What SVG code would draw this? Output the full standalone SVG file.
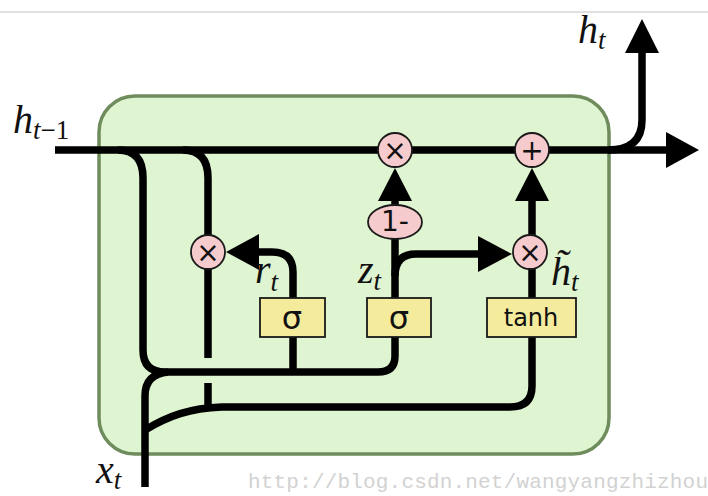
<svg xmlns="http://www.w3.org/2000/svg" width="708" height="496" viewBox="0 0 708 496">
<style>
.ln{fill:none;stroke:#000;stroke-width:7.5}
.ah{fill:#000}
.op{fill:#f6cbcd;stroke:#1a1a1a;stroke-width:1.8}
.bx{fill:#f4eb9c;stroke:#1a1a1a;stroke-width:1.8}
.opt{font-family:"DejaVu Sans",sans-serif;font-size:28px;text-anchor:middle;fill:#111}
.bt{font-family:"DejaVu Sans",sans-serif;text-anchor:middle;fill:#111}
.m{font-family:"Liberation Serif",serif;font-style:italic;fill:#111}
</style>
<rect width="708" height="496" fill="#fff"/>
<line x1="0" y1="12" x2="708" y2="12" stroke="#d6d6d6" stroke-width="1.5"/>
<g id="cell">
<rect x="99" y="96" width="510" height="358" rx="36" fill="#dff4d0" stroke="#6f8c5c" stroke-width="3.5"/>
</g>
<g id="connectors">
<path class="ln" d="M55,150 H668"/>
<polygon class="ah" points="666,132 699,150 666,168"/>
<path class="ln" d="M608,150 Q642,150 642,120 V52"/>
<polygon class="ah" points="625,53 642,19 659,53"/>
<path class="ln" d="M118,150 Q143,150 143,178 V350 Q143,372 165,372 H378 Q395,372 395,356 V337"/>
<path class="ln" d="M293,372 V337"/>
<path class="ln" d="M183,150 Q208,150 208,178 V358"/>
<path class="ln" d="M208,383 V407"/>
<path class="ln" d="M145,487 V396 Q145,374 168,372"/>
<path class="ln" d="M145,430 C168,416 190,408 222,407 H510 Q532,407 532,386 V337"/>
<path class="ln" d="M395,298 V239"/>
<path class="ln" d="M395,276 Q395,254 416,254 H480"/>
<polygon class="ah" points="478,236 512,254 478,272"/>
<path class="ln" d="M395,206 V198"/>
<polygon class="ah" points="378,201 395,168 412,201"/>
<path class="ln" d="M293,298 V272 Q293,252 272,252 H256"/>
<polygon class="ah" points="259,234 226,252 259,270"/>
<path class="ln" d="M532,298 V268"/>
<path class="ln" d="M532,236 V198"/>
<polygon class="ah" points="515,201 532,168 549,201"/>
</g>
<g id="mul_forget">
<circle class="op" cx="395" cy="150" r="17"/>
<text class="opt" x="395" y="160">×</text>
</g>
<g id="add">
<circle class="op" cx="532" cy="150" r="17"/>
<text class="opt" x="532" y="160">+</text>
</g>
<g id="mul_reset">
<circle class="op" cx="208" cy="252" r="17"/>
<text class="opt" x="208" y="262">×</text>
</g>
<g id="mul_cand">
<circle class="op" cx="530" cy="252" r="17"/>
<text class="opt" x="530" y="262">×</text>
</g>
<g id="one_minus">
<ellipse class="op" cx="395" cy="222" rx="27" ry="17"/>
<text class="opt" x="395" y="231" font-size="24">1-</text>
</g>
<g id="sigma_r">
<rect class="bx" x="260" y="298" width="65" height="39"/>
<text class="bt" x="292" y="329" font-size="32">σ</text>
</g>
<g id="sigma_z">
<rect class="bx" x="367" y="298" width="64" height="39"/>
<text class="bt" x="399" y="329" font-size="32">σ</text>
</g>
<g id="tanh">
<rect class="bx" x="487" y="298" width="89" height="39"/>
<text class="bt" x="531" y="326" font-size="24">tanh</text>
</g>
<g id="labels">
<text class="m" x="13" y="133" font-size="40">h<tspan font-size="27" dy="6">t</tspan><tspan font-style="normal" font-size="27">−1</tspan></text>
<text class="m" x="578" y="43" font-size="40">h<tspan font-size="27" dy="6">t</tspan></text>
<text class="m" x="255" y="283" font-size="40">r<tspan font-size="27" dy="8">t</tspan></text>
<text class="m" x="358" y="283" font-size="40">z<tspan font-size="27" dy="7">t</tspan></text>
<text class="m" x="551" y="285" font-size="40">h̃<tspan font-size="27" dy="6">t</tspan></text>
<text class="m" x="96" y="483" font-size="40">x<tspan font-size="27" dy="6">t</tspan></text>
</g>
<text x="248" y="488" font-family="Liberation Mono,monospace" font-size="21" fill="#d2d2d2" textLength="460">http://blog.csdn.net/wangyangzhizhou</text>
</svg>
